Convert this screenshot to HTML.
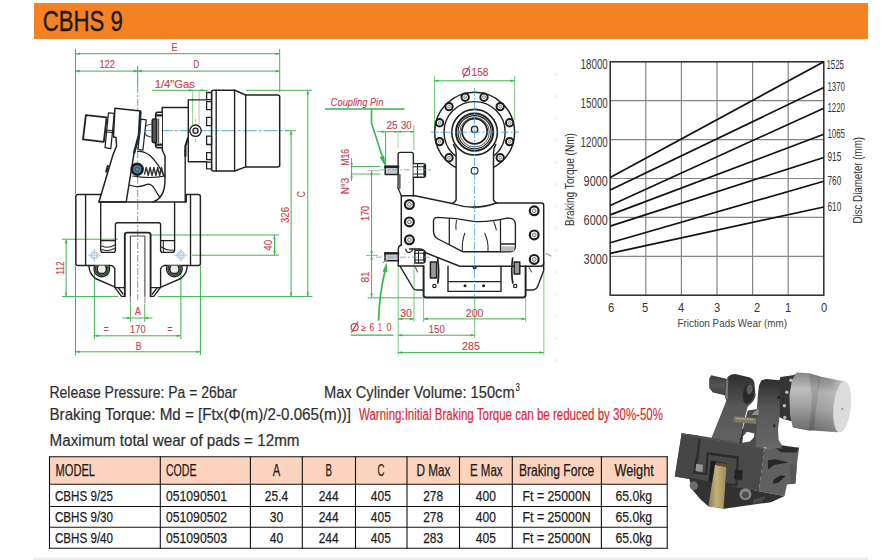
<!DOCTYPE html>
<html><head><meta charset="utf-8"><title>CBHS 9</title>
<style>
html,body{margin:0;padding:0;background:#fff;}
body{width:891px;height:560px;overflow:hidden;font-family:"Liberation Sans",sans-serif;}
svg{display:block;font-family:"Liberation Sans",sans-serif;}
</style></head><body>
<svg width="891" height="560" viewBox="0 0 891 560">
<rect x="34" y="3" width="834" height="36" fill="#f58220"/>
<text x="42.8" y="31.2" font-size="29" fill="#1a1a1a" textLength="80" lengthAdjust="spacingAndGlyphs" stroke="#1a1a1a" stroke-width="0.35">CBHS 9</text>
<g stroke="#858585" stroke-width="1.2" fill="none">
<line x1="645.8" y1="61.8" x2="645.8" y2="295.2"/>
<line x1="681.4" y1="61.8" x2="681.4" y2="295.2"/>
<line x1="717.0" y1="61.8" x2="717.0" y2="295.2"/>
<line x1="752.6" y1="61.8" x2="752.6" y2="295.2"/>
<line x1="788.2" y1="61.8" x2="788.2" y2="295.2"/>
<line x1="610.2" y1="100.7" x2="823.8" y2="100.7"/>
<line x1="610.2" y1="139.6" x2="823.8" y2="139.6"/>
<line x1="610.2" y1="178.5" x2="823.8" y2="178.5"/>
<line x1="610.2" y1="217.4" x2="823.8" y2="217.4"/>
<line x1="610.2" y1="256.3" x2="823.8" y2="256.3"/>
</g>
<rect x="610.2" y="61.8" width="213.6" height="233.4" fill="none" stroke="#2a2a2a" stroke-width="1.5"/>
<g stroke="#111" stroke-width="1.7" fill="none">
<line x1="610.2" y1="177.6" x2="823.8" y2="61.8"/>
<line x1="610.2" y1="190" x2="823.8" y2="87.5"/>
<line x1="610.2" y1="205.5" x2="823.8" y2="108.2"/>
<line x1="610.2" y1="214.9" x2="823.8" y2="134.2"/>
<line x1="610.2" y1="226.1" x2="823.8" y2="157.5"/>
<line x1="610.2" y1="242.8" x2="823.8" y2="181.2"/>
<line x1="610.2" y1="253.4" x2="823.8" y2="207"/>
</g>
<text x="607.8" y="69.0" font-size="14.3" fill="#3a3a3a" text-anchor="end" textLength="27.2" lengthAdjust="spacingAndGlyphs">18000</text>
<text x="607.8" y="107.9" font-size="14.3" fill="#3a3a3a" text-anchor="end" textLength="27.2" lengthAdjust="spacingAndGlyphs">15000</text>
<text x="607.8" y="146.8" font-size="14.3" fill="#3a3a3a" text-anchor="end" textLength="27.2" lengthAdjust="spacingAndGlyphs">12000</text>
<text x="607.8" y="185.7" font-size="14.3" fill="#3a3a3a" text-anchor="end" textLength="24.2" lengthAdjust="spacingAndGlyphs">9000</text>
<text x="607.8" y="224.6" font-size="14.3" fill="#3a3a3a" text-anchor="end" textLength="24.2" lengthAdjust="spacingAndGlyphs">6000</text>
<text x="607.8" y="263.5" font-size="14.3" fill="#3a3a3a" text-anchor="end" textLength="24.2" lengthAdjust="spacingAndGlyphs">3000</text>
<text x="826.5" y="68.8" font-size="12.2" fill="#333" textLength="17.5" lengthAdjust="spacingAndGlyphs">1525</text>
<text x="827.5" y="90.8" font-size="12.2" fill="#333" textLength="17.5" lengthAdjust="spacingAndGlyphs">1370</text>
<text x="827.5" y="111.8" font-size="12.2" fill="#333" textLength="17.5" lengthAdjust="spacingAndGlyphs">1220</text>
<text x="827.5" y="137.5" font-size="12.2" fill="#333" textLength="17.5" lengthAdjust="spacingAndGlyphs">1065</text>
<text x="827.5" y="161.3" font-size="12.2" fill="#333" textLength="13.8" lengthAdjust="spacingAndGlyphs">915</text>
<text x="827.5" y="185" font-size="12.2" fill="#333" textLength="13.8" lengthAdjust="spacingAndGlyphs">760</text>
<text x="827.5" y="211" font-size="12.2" fill="#333" textLength="13.8" lengthAdjust="spacingAndGlyphs">610</text>
<text x="611" y="312" font-size="13" fill="#333" text-anchor="middle" textLength="6.2" lengthAdjust="spacingAndGlyphs">6</text>
<text x="645" y="312" font-size="13" fill="#333" text-anchor="middle" textLength="6.2" lengthAdjust="spacingAndGlyphs">5</text>
<text x="681" y="312" font-size="13" fill="#333" text-anchor="middle" textLength="6.2" lengthAdjust="spacingAndGlyphs">4</text>
<text x="717" y="312" font-size="13" fill="#333" text-anchor="middle" textLength="6.2" lengthAdjust="spacingAndGlyphs">3</text>
<text x="757" y="312" font-size="13" fill="#333" text-anchor="middle" textLength="6.2" lengthAdjust="spacingAndGlyphs">2</text>
<text x="788" y="312" font-size="13" fill="#333" text-anchor="middle" textLength="6.2" lengthAdjust="spacingAndGlyphs">1</text>
<text x="824" y="312" font-size="13" fill="#333" text-anchor="middle" textLength="6.2" lengthAdjust="spacingAndGlyphs">0</text>
<text x="677.5" y="327" font-size="11.8" fill="#444" textLength="109.5" lengthAdjust="spacingAndGlyphs">Friction Pads Wear (mm)</text>
<text x="573.6" y="226" font-size="12.2" fill="#333" textLength="93" lengthAdjust="spacingAndGlyphs" transform="rotate(-90 573.6 226)">Braking Torque (Nm)</text>
<text x="861.5" y="223.5" font-size="12.2" fill="#333" textLength="86.5" lengthAdjust="spacingAndGlyphs" transform="rotate(-90 861.5 223.5)">Disc Diameter (mm)</text>
<text x="49.5" y="397.5" font-size="16.4" fill="#2e2e2e" textLength="187.5" lengthAdjust="spacingAndGlyphs" stroke="#2e2e2e" stroke-width="0.2">Release Pressure: Pa = 26bar</text>
<text x="324" y="397.5" font-size="16.4" fill="#2e2e2e" textLength="190.6" lengthAdjust="spacingAndGlyphs" stroke="#2e2e2e" stroke-width="0.2">Max Cylinder Volume: 150cm</text>
<text x="515.4" y="391" font-size="10.5" fill="#2e2e2e" textLength="4.4" lengthAdjust="spacingAndGlyphs" stroke="#2e2e2e" stroke-width="0.2">3</text>
<text x="49.5" y="420" font-size="16.4" fill="#2e2e2e" textLength="301.5" lengthAdjust="spacingAndGlyphs" stroke="#2e2e2e" stroke-width="0.2">Braking Torque: Md = [Ftx(Φ(m)/2-0.065(m))]</text>
<text x="359" y="420" font-size="15.6" fill="#e3232f" textLength="304" lengthAdjust="spacingAndGlyphs" stroke="#e3232f" stroke-width="0.15">Warning:Initial Braking Torque can be reduced by 30%-50%</text>
<text x="49.5" y="445.5" font-size="16.4" fill="#2e2e2e" textLength="250" lengthAdjust="spacingAndGlyphs" stroke="#2e2e2e" stroke-width="0.2">Maximum total wear of pads = 12mm</text>
<rect x="49.5" y="456.8" width="617.7" height="27.5" fill="#fcd3bd"/>
<g stroke="#111" stroke-width="1.1" fill="none">
<line x1="49.5" y1="456.3" x2="49.5" y2="548.8"/>
<line x1="160.3" y1="456.3" x2="160.3" y2="548.8"/>
<line x1="250.4" y1="456.3" x2="250.4" y2="548.8"/>
<line x1="302.3" y1="456.3" x2="302.3" y2="548.8"/>
<line x1="355.5" y1="456.3" x2="355.5" y2="548.8"/>
<line x1="407" y1="456.3" x2="407" y2="548.8"/>
<line x1="459.5" y1="456.3" x2="459.5" y2="548.8"/>
<line x1="512.3" y1="456.3" x2="512.3" y2="548.8"/>
<line x1="601.4" y1="456.3" x2="601.4" y2="548.8"/>
<line x1="667.2" y1="456.3" x2="667.2" y2="548.8"/>
<line x1="49.5" y1="456.8" x2="667.2" y2="456.8"/>
<line x1="49.5" y1="484.3" x2="667.2" y2="484.3"/>
<line x1="49.5" y1="506.5" x2="667.2" y2="506.5"/>
<line x1="49.5" y1="527.3" x2="667.2" y2="527.3"/>
<line x1="49.5" y1="548.3" x2="667.2" y2="548.3"/>
</g>
<text x="55.5" y="476" font-size="15.6" fill="#1c1c1c" textLength="39.5" lengthAdjust="spacingAndGlyphs" stroke="#1c1c1c" stroke-width="0.25">MODEL</text>
<text x="166" y="476" font-size="15.6" fill="#1c1c1c" textLength="30.5" lengthAdjust="spacingAndGlyphs" stroke="#1c1c1c" stroke-width="0.25">CODE</text>
<text x="276.5" y="476" font-size="15.6" fill="#1c1c1c" text-anchor="middle" textLength="7.5" lengthAdjust="spacingAndGlyphs" stroke="#1c1c1c" stroke-width="0.25">A</text>
<text x="328.7" y="476" font-size="15.6" fill="#1c1c1c" text-anchor="middle" textLength="6.5" lengthAdjust="spacingAndGlyphs" stroke="#1c1c1c" stroke-width="0.25">B</text>
<text x="381" y="476" font-size="15.6" fill="#1c1c1c" text-anchor="middle" textLength="7" lengthAdjust="spacingAndGlyphs" stroke="#1c1c1c" stroke-width="0.25">C</text>
<text x="416.5" y="476" font-size="15.6" fill="#1c1c1c" textLength="34" lengthAdjust="spacingAndGlyphs" stroke="#1c1c1c" stroke-width="0.25">D Max</text>
<text x="470" y="476" font-size="15.6" fill="#1c1c1c" textLength="32.5" lengthAdjust="spacingAndGlyphs" stroke="#1c1c1c" stroke-width="0.25">E Max</text>
<text x="519" y="476" font-size="15.6" fill="#1c1c1c" textLength="75.2" lengthAdjust="spacingAndGlyphs" stroke="#1c1c1c" stroke-width="0.25">Braking Force</text>
<text x="614.5" y="476" font-size="15.6" fill="#1c1c1c" textLength="39.2" lengthAdjust="spacingAndGlyphs" stroke="#1c1c1c" stroke-width="0.25">Weight</text>
<text x="55" y="501" font-size="15.4" fill="#1c1c1c" textLength="58" lengthAdjust="spacingAndGlyphs" stroke="#1c1c1c" stroke-width="0.25">CBHS 9/25</text>
<text x="166" y="501" font-size="15.4" fill="#1c1c1c" textLength="61" lengthAdjust="spacingAndGlyphs" stroke="#1c1c1c" stroke-width="0.25">051090501</text>
<text x="276.5" y="501" font-size="15.4" fill="#1c1c1c" text-anchor="middle" textLength="23.5" lengthAdjust="spacingAndGlyphs" stroke="#1c1c1c" stroke-width="0.25">25.4</text>
<text x="328.7" y="501" font-size="15.4" fill="#1c1c1c" text-anchor="middle" textLength="20" lengthAdjust="spacingAndGlyphs" stroke="#1c1c1c" stroke-width="0.25">244</text>
<text x="380.8" y="501" font-size="15.4" fill="#1c1c1c" text-anchor="middle" textLength="20" lengthAdjust="spacingAndGlyphs" stroke="#1c1c1c" stroke-width="0.25">405</text>
<text x="433.2" y="501" font-size="15.4" fill="#1c1c1c" text-anchor="middle" textLength="20" lengthAdjust="spacingAndGlyphs" stroke="#1c1c1c" stroke-width="0.25">278</text>
<text x="485.8" y="501" font-size="15.4" fill="#1c1c1c" text-anchor="middle" textLength="20" lengthAdjust="spacingAndGlyphs" stroke="#1c1c1c" stroke-width="0.25">400</text>
<text x="522.5" y="501" font-size="15.4" fill="#1c1c1c" textLength="68.2" lengthAdjust="spacingAndGlyphs" stroke="#1c1c1c" stroke-width="0.25">Ft = 25000N</text>
<text x="615.5" y="501" font-size="15.4" fill="#1c1c1c" textLength="36.5" lengthAdjust="spacingAndGlyphs" stroke="#1c1c1c" stroke-width="0.25">65.0kg</text>
<text x="55" y="522" font-size="15.4" fill="#1c1c1c" textLength="58" lengthAdjust="spacingAndGlyphs" stroke="#1c1c1c" stroke-width="0.25">CBHS 9/30</text>
<text x="166" y="522" font-size="15.4" fill="#1c1c1c" textLength="61" lengthAdjust="spacingAndGlyphs" stroke="#1c1c1c" stroke-width="0.25">051090502</text>
<text x="276.5" y="522" font-size="15.4" fill="#1c1c1c" text-anchor="middle" textLength="13.4" lengthAdjust="spacingAndGlyphs" stroke="#1c1c1c" stroke-width="0.25">30</text>
<text x="328.7" y="522" font-size="15.4" fill="#1c1c1c" text-anchor="middle" textLength="20" lengthAdjust="spacingAndGlyphs" stroke="#1c1c1c" stroke-width="0.25">244</text>
<text x="380.8" y="522" font-size="15.4" fill="#1c1c1c" text-anchor="middle" textLength="20" lengthAdjust="spacingAndGlyphs" stroke="#1c1c1c" stroke-width="0.25">405</text>
<text x="433.2" y="522" font-size="15.4" fill="#1c1c1c" text-anchor="middle" textLength="20" lengthAdjust="spacingAndGlyphs" stroke="#1c1c1c" stroke-width="0.25">278</text>
<text x="485.8" y="522" font-size="15.4" fill="#1c1c1c" text-anchor="middle" textLength="20" lengthAdjust="spacingAndGlyphs" stroke="#1c1c1c" stroke-width="0.25">400</text>
<text x="522.5" y="522" font-size="15.4" fill="#1c1c1c" textLength="68.2" lengthAdjust="spacingAndGlyphs" stroke="#1c1c1c" stroke-width="0.25">Ft = 25000N</text>
<text x="615.5" y="522" font-size="15.4" fill="#1c1c1c" textLength="36.5" lengthAdjust="spacingAndGlyphs" stroke="#1c1c1c" stroke-width="0.25">65.0kg</text>
<text x="55" y="543.2" font-size="15.4" fill="#1c1c1c" textLength="58" lengthAdjust="spacingAndGlyphs" stroke="#1c1c1c" stroke-width="0.25">CBHS 9/40</text>
<text x="166" y="543.2" font-size="15.4" fill="#1c1c1c" textLength="61" lengthAdjust="spacingAndGlyphs" stroke="#1c1c1c" stroke-width="0.25">051090503</text>
<text x="276.5" y="543.2" font-size="15.4" fill="#1c1c1c" text-anchor="middle" textLength="13.4" lengthAdjust="spacingAndGlyphs" stroke="#1c1c1c" stroke-width="0.25">40</text>
<text x="328.7" y="543.2" font-size="15.4" fill="#1c1c1c" text-anchor="middle" textLength="20" lengthAdjust="spacingAndGlyphs" stroke="#1c1c1c" stroke-width="0.25">244</text>
<text x="380.8" y="543.2" font-size="15.4" fill="#1c1c1c" text-anchor="middle" textLength="20" lengthAdjust="spacingAndGlyphs" stroke="#1c1c1c" stroke-width="0.25">405</text>
<text x="433.2" y="543.2" font-size="15.4" fill="#1c1c1c" text-anchor="middle" textLength="20" lengthAdjust="spacingAndGlyphs" stroke="#1c1c1c" stroke-width="0.25">283</text>
<text x="485.8" y="543.2" font-size="15.4" fill="#1c1c1c" text-anchor="middle" textLength="20" lengthAdjust="spacingAndGlyphs" stroke="#1c1c1c" stroke-width="0.25">405</text>
<text x="522.5" y="543.2" font-size="15.4" fill="#1c1c1c" textLength="68.2" lengthAdjust="spacingAndGlyphs" stroke="#1c1c1c" stroke-width="0.25">Ft = 25000N</text>
<text x="615.5" y="543.2" font-size="15.4" fill="#1c1c1c" textLength="36.5" lengthAdjust="spacingAndGlyphs" stroke="#1c1c1c" stroke-width="0.25">65.0kg</text>
<rect x="33" y="557.6" width="835" height="2.4" fill="#ebebeb"/>
<rect x="555.6" y="73" width="1.8" height="2.6" fill="#f1eed2"/>
<rect x="555.6" y="95" width="1.8" height="2.6" fill="#f1eed2"/>
<rect x="555.6" y="117" width="1.8" height="2.6" fill="#f1eed2"/>
<rect x="555.6" y="139" width="1.8" height="2.6" fill="#f1eed2"/>
<rect x="555.6" y="161" width="1.8" height="2.6" fill="#f1eed2"/>
<rect x="555.6" y="183" width="1.8" height="2.6" fill="#f1eed2"/>
<rect x="555.6" y="205" width="1.8" height="2.6" fill="#f1eed2"/>
<rect x="555.6" y="227" width="1.8" height="2.6" fill="#f1eed2"/>
<rect x="555.6" y="249" width="1.8" height="2.6" fill="#f1eed2"/>
<rect x="555.6" y="271" width="1.8" height="2.6" fill="#f1eed2"/>
<rect x="555.6" y="293" width="1.8" height="2.6" fill="#f1eed2"/>
<rect x="555.6" y="315" width="1.8" height="2.6" fill="#f1eed2"/>
<rect x="555.6" y="337" width="1.8" height="2.6" fill="#f1eed2"/>
<rect x="555.6" y="359" width="1.8" height="2.6" fill="#f1eed2"/>
<line x1="75.5" y1="49" x2="75.5" y2="194" stroke="#3cb54a" stroke-width="1.0"/>
<line x1="279.7" y1="49" x2="279.7" y2="92" stroke="#3cb54a" stroke-width="1.0"/>
<line x1="75.5" y1="53.7" x2="279.7" y2="53.7" stroke="#3cb54a" stroke-width="1.0"/>
<polygon points="75.5,53.7 79.7,52.4 79.7,55.0" fill="#3cb54a"/>
<polygon points="279.7,53.7 275.5,52.4 275.5,55.0" fill="#3cb54a"/>
<line x1="75.5" y1="71.1" x2="279.7" y2="71.1" stroke="#3cb54a" stroke-width="1.0"/>
<polygon points="75.5,71.1 79.7,69.8 79.7,72.4" fill="#3cb54a"/>
<polygon points="137.7,71.1 133.5,69.8 133.5,72.4" fill="#3cb54a"/>
<polygon points="137.7,71.1 141.9,69.8 141.9,72.4" fill="#3cb54a"/>
<polygon points="279.7,71.1 275.5,69.8 275.5,72.4" fill="#3cb54a"/>
<line x1="137.7" y1="66" x2="137.7" y2="86" stroke="#3cb54a" stroke-width="1.0"/>
<text x="174.6" y="50.5" font-size="11" fill="#c8424f" text-anchor="middle" textLength="6" lengthAdjust="spacingAndGlyphs" stroke="#c8424f" stroke-width="0.15">E</text>
<text x="107.2" y="68.3" font-size="11" fill="#c8424f" text-anchor="middle" textLength="15.5" lengthAdjust="spacingAndGlyphs" stroke="#c8424f" stroke-width="0.15">122</text>
<text x="196.3" y="68.3" font-size="11" fill="#c8424f" text-anchor="middle" textLength="6" lengthAdjust="spacingAndGlyphs" stroke="#c8424f" stroke-width="0.15">D</text>
<text x="154.7" y="87.9" font-size="11" fill="#c8424f" textLength="40.2" lengthAdjust="spacingAndGlyphs" stroke="#c8424f" stroke-width="0.15">1/4"Gas</text>
<line x1="152" y1="90.3" x2="208" y2="90.3" stroke="#3cb54a" stroke-width="1.0"/>
<line x1="192.5" y1="90.3" x2="192.5" y2="125" stroke="#3cb54a" stroke-width="0.9" stroke-opacity="0.6"/>
<line x1="199.1" y1="90.3" x2="199.1" y2="125" stroke="#3cb54a" stroke-width="0.9" stroke-opacity="0.6"/>
<polygon points="192.5,90.3 189.0,89.0 189.0,91.6" fill="#3cb54a"/>
<polygon points="199.1,90.3 202.6,89.0 202.6,91.6" fill="#3cb54a"/>
<line x1="246" y1="90.3" x2="312" y2="90.3" stroke="#3cb54a" stroke-width="1.0"/>
<line x1="307.8" y1="90.3" x2="307.8" y2="296.6" stroke="#3cb54a" stroke-width="1.0"/>
<polygon points="307.8,90.3 306.5,94.5 309.1,94.5" fill="#3cb54a"/>
<polygon points="307.8,296.6 306.5,292.4 309.1,292.4" fill="#3cb54a"/>
<line x1="291.1" y1="130.7" x2="291.1" y2="296.6" stroke="#3cb54a" stroke-width="1.0"/>
<polygon points="291.1,130.7 289.8,134.9 292.4,134.9" fill="#3cb54a"/>
<polygon points="291.1,296.6 289.8,292.4 292.4,292.4" fill="#3cb54a"/>
<line x1="285" y1="130.7" x2="296" y2="130.7" stroke="#3cb54a" stroke-width="1.0"/>
<line x1="151" y1="235" x2="279" y2="235" stroke="#3cb54a" stroke-width="1.0"/>
<line x1="192" y1="255.2" x2="279" y2="255.2" stroke="#3cb54a" stroke-width="1.0"/>
<line x1="274.5" y1="235" x2="274.5" y2="255.2" stroke="#3cb54a" stroke-width="1.0"/>
<polygon points="274.5,235.0 273.2,239.2 275.8,239.2" fill="#3cb54a"/>
<polygon points="274.5,255.2 273.2,251.0 275.8,251.0" fill="#3cb54a"/>
<line x1="158" y1="296.6" x2="312.5" y2="296.6" stroke="#3cb54a" stroke-width="1.0"/>
<text x="305.2" y="194.2" font-size="11" fill="#c8424f" text-anchor="middle" textLength="6" lengthAdjust="spacingAndGlyphs" transform="rotate(-90 305.2 194.2)" stroke="#c8424f" stroke-width="0.15">C</text>
<text x="289" y="215" font-size="11" fill="#c8424f" text-anchor="middle" textLength="16" lengthAdjust="spacingAndGlyphs" transform="rotate(-90 289 215)" stroke="#c8424f" stroke-width="0.15">326</text>
<text x="272.2" y="245.3" font-size="11" fill="#c8424f" text-anchor="middle" textLength="11" lengthAdjust="spacingAndGlyphs" transform="rotate(-90 272.2 245.3)" stroke="#c8424f" stroke-width="0.15">40</text>
<line x1="62" y1="239.2" x2="118" y2="239.2" stroke="#3cb54a" stroke-width="1.0"/>
<line x1="62" y1="296.6" x2="118" y2="296.6" stroke="#3cb54a" stroke-width="1.0"/>
<line x1="66.1" y1="239.2" x2="66.1" y2="296.6" stroke="#3cb54a" stroke-width="1.0"/>
<polygon points="66.1,239.2 64.8,243.4 67.4,243.4" fill="#3cb54a"/>
<polygon points="66.1,296.6 64.8,292.4 67.4,292.4" fill="#3cb54a"/>
<text x="63.6" y="268" font-size="11" fill="#c8424f" text-anchor="middle" textLength="13.5" lengthAdjust="spacingAndGlyphs" transform="rotate(-90 63.6 268)" stroke="#c8424f" stroke-width="0.15">112</text>
<line x1="75.5" y1="266" x2="75.5" y2="355" stroke="#3cb54a" stroke-width="1.0"/>
<line x1="200.4" y1="266" x2="200.4" y2="355" stroke="#3cb54a" stroke-width="1.0"/>
<line x1="94.4" y1="272" x2="94.4" y2="339" stroke="#3cb54a" stroke-width="1.0"/>
<line x1="180.9" y1="272" x2="180.9" y2="339" stroke="#3cb54a" stroke-width="1.0"/>
<line x1="130.6" y1="304" x2="130.6" y2="322" stroke="#3cb54a" stroke-width="0.9"/>
<line x1="144.7" y1="304" x2="144.7" y2="322" stroke="#3cb54a" stroke-width="0.9"/>
<line x1="122.5" y1="318" x2="152.5" y2="318" stroke="#3cb54a" stroke-width="1.0"/>
<polygon points="130.6,318.0 127.1,316.7 127.1,319.3" fill="#3cb54a"/>
<polygon points="144.7,318.0 148.2,316.7 148.2,319.3" fill="#3cb54a"/>
<line x1="94.4" y1="335.8" x2="180.9" y2="335.8" stroke="#3cb54a" stroke-width="1.0"/>
<polygon points="94.4,335.8 98.6,334.5 98.6,337.1" fill="#3cb54a"/>
<polygon points="180.9,335.8 176.7,334.5 176.7,337.1" fill="#3cb54a"/>
<line x1="75.5" y1="351.8" x2="200.4" y2="351.8" stroke="#3cb54a" stroke-width="1.0"/>
<polygon points="75.5,351.8 79.7,350.5 79.7,353.1" fill="#3cb54a"/>
<polygon points="200.4,351.8 196.2,350.5 196.2,353.1" fill="#3cb54a"/>
<text x="138" y="315" font-size="11" fill="#c8424f" text-anchor="middle" textLength="6.3" lengthAdjust="spacingAndGlyphs" stroke="#c8424f" stroke-width="0.15">A</text>
<text x="137.8" y="333.2" font-size="11" fill="#c8424f" text-anchor="middle" textLength="15.5" lengthAdjust="spacingAndGlyphs" stroke="#c8424f" stroke-width="0.15">170</text>
<text x="106.2" y="333" font-size="10" fill="#c8424f" text-anchor="middle" textLength="5" lengthAdjust="spacingAndGlyphs" stroke="#c8424f" stroke-width="0.15">=</text>
<text x="170" y="333" font-size="10" fill="#c8424f" text-anchor="middle" textLength="5" lengthAdjust="spacingAndGlyphs" stroke="#c8424f" stroke-width="0.15">=</text>
<text x="138.6" y="349.5" font-size="11" fill="#c8424f" text-anchor="middle" textLength="5.8" lengthAdjust="spacingAndGlyphs" stroke="#c8424f" stroke-width="0.15">B</text>
<line x1="137.7" y1="86" x2="137.7" y2="300" stroke="#4a9fd0" stroke-width="1.0" stroke-dasharray="7 2 2 2" stroke-opacity="0.9"/>
<line x1="137.7" y1="130.7" x2="287" y2="130.7" stroke="#4a9fd0" stroke-width="1.0" stroke-dasharray="14 2 3 2" stroke-opacity="0.9"/>
<line x1="195.5" y1="119" x2="195.5" y2="143" stroke="#4a9fd0" stroke-width="0.8" stroke-dasharray="3 2" stroke-opacity="0.8"/>
<path d="M206.6,99.9 H188.3 V161.7 H206.6" stroke="#222" stroke-width="1.38" fill="none" stroke-linejoin="round" stroke-linecap="round"/>
<path d="M206.6,92.5 H211.6 V99.6 H206.6 Z" stroke="#222" stroke-width="1.26" fill="none" stroke-linejoin="round" stroke-linecap="round"/>
<path d="M206.6,101.6 H211.6 V109.6 H206.6 Z" stroke="#222" stroke-width="1.26" fill="none" stroke-linejoin="round" stroke-linecap="round"/>
<path d="M206.6,117.4 H211.6 V125.7 H206.6 Z" stroke="#222" stroke-width="1.26" fill="none" stroke-linejoin="round" stroke-linecap="round"/>
<path d="M206.6,136.1 H211.6 V144.5 H206.6 Z" stroke="#222" stroke-width="1.26" fill="none" stroke-linejoin="round" stroke-linecap="round"/>
<path d="M206.6,152.6 H211.6 V159.7 H206.6 Z" stroke="#222" stroke-width="1.26" fill="none" stroke-linejoin="round" stroke-linecap="round"/>
<path d="M206.6,162.2 H211.6 V168.9 H206.6 Z" stroke="#222" stroke-width="1.26" fill="none" stroke-linejoin="round" stroke-linecap="round"/>
<path d="M211.6,92 Q211.6,90.3 213.5,90.3 H234.8 L245.6,95 H277.7 Q279.7,95 279.7,97 V164.9 Q279.7,166.9 277.7,166.9 H245.6 L234.8,171 H213.5 Q211.6,171 211.6,169.3 Z" stroke="#222" stroke-width="1.49" fill="none" stroke-linejoin="round" stroke-linecap="round"/>
<path d="M216.2,90.3 V171 M234.6,90.3 V171 M245.7,95 V166.9" stroke="#222" stroke-width="1.38" fill="none" stroke-linejoin="round" stroke-linecap="round"/>
<circle cx="195.5" cy="130.7" r="5.7" fill="#fff" stroke="#222" stroke-width="1.4"/>
<circle cx="195.5" cy="130.7" r="2.6" fill="#cfe3ee" stroke="#222" stroke-width="1.3"/>
<path d="M162.2,107.5 H188.3 M162.2,107.5 V150 L165,156 V180 Q165,198 152.8,202" stroke="#222" stroke-width="1.49" fill="none" stroke-linejoin="round" stroke-linecap="round"/>
<path d="M185.2,150 V202" stroke="#222" stroke-width="1.38" fill="none" stroke-linejoin="round" stroke-linecap="round"/>
<path d="M188,138 L185.4,146 V156" stroke="#222" stroke-width="2.18" fill="none" stroke-linejoin="round" stroke-linecap="round"/>
<path d="M162,112.3 H157.6 Q155.7,112.3 155.7,114.4 V145.5 Q155.7,147.6 157.6,147.6 H162" stroke="#222" stroke-width="1.61" fill="#fff" stroke-linejoin="round" stroke-linecap="round"/>
<path d="M156,115.4 H162 M156,144.6 H162" stroke="#222" stroke-width="2.18" fill="none" stroke-linejoin="round" stroke-linecap="round"/>
<path d="M152.3,120.6 Q152.3,119 153.9,119 H156.6 V142.6 H153.9 Q152.3,142.6 152.3,141 Z" stroke="#222" stroke-width="1.72" fill="#5a5a5a" stroke-linejoin="round" stroke-linecap="round"/>
<path d="M158.6,119 V142.6" stroke="#555" stroke-width="1.15" fill="none" stroke-linejoin="round" stroke-linecap="round"/>
<path d="M152.3,124 Q144.2,124.6 144,130.6 Q144.2,136.6 152.3,137.2" stroke="#444" stroke-width="1.15" fill="none" stroke-linejoin="round" stroke-linecap="round"/>
<path d="M140.9,119.2 L146.2,119.8 L142.9,150.2 L138,149.7 Z" stroke="#222" stroke-width="1.26" fill="#fff" stroke-linejoin="round" stroke-linecap="round"/>
<path d="M85.9,115.1 L106.7,117.4 L103.8,141.8 L83,139.4 Z" stroke="#222" stroke-width="1.84" fill="#fff" stroke-linejoin="round" stroke-linecap="round"/>
<path d="M108.5,112.8 L114.3,113.3 L110.8,148.7 L105,147.6 Z" stroke="#222" stroke-width="1.26" fill="#fff" stroke-linejoin="round" stroke-linecap="round"/>
<path d="M106.6,130 L112.4,130.7 M106.4,132 L112.2,132.6" stroke="#222" stroke-width="1.03" fill="none" stroke-linejoin="round" stroke-linecap="round"/>
<path d="M114.9,108.2 L140.5,111 L139.2,135 L134,153.4 L126.2,202 H98.9 L113.1,154.5 L116.6,146 L116,137.5 L113.5,137 Z" stroke="#222" stroke-width="1.49" fill="#fff" stroke-linejoin="round" stroke-linecap="round"/>
<path d="M140.3,112 L139,135 L134.2,152.5" stroke="#1d2a36" stroke-width="2.53" fill="none" stroke-linejoin="round" stroke-linecap="round"/>
<path d="M107.8,166 L106.3,171.6" stroke="#222" stroke-width="2.18" fill="none" stroke-linejoin="round" stroke-linecap="round"/>
<path d="M137.8,151.4 Q144,151 150,155.5 Q158,163 164.6,176.5" stroke="#222" stroke-width="1.26" fill="none" stroke-linejoin="round" stroke-linecap="round"/>
<path d="M129.6,185 Q138,188.5 147,184.4 Q151,183.5 153.6,187.5 L159.8,197.4" stroke="#222" stroke-width="1.26" fill="none" stroke-linejoin="round" stroke-linecap="round"/>
<path d="M132.5,176 Q150,179 165,176" stroke="#222" stroke-width="1.03" fill="none" stroke-linejoin="round" stroke-linecap="round"/>
<path d="M144.5,174 L146.3,167.5 L148.3,175.5 L150.1,167.5 L152.1,175.5 L153.9,167.5 L155.9,175.5 L157.7,167.5 L159.7,175.5 L161.5,167.5 L163.5,175.5" stroke="#333" stroke-width="1.38" fill="none" stroke-linejoin="round" stroke-linecap="round"/>
<circle cx="137.2" cy="169.3" r="5.4" fill="#5b86a3" stroke="#1a1a1a" stroke-width="2.6"/>
<circle cx="137.2" cy="169.3" r="2.2" fill="none" stroke="#22445a" stroke-width="0.9"/>
<path d="M101,194.6 H78 Q75.8,194.6 75.8,196.8 V263.4 Q75.8,265.4 77.8,265.4 H109.8" stroke="#222" stroke-width="1.49" fill="none" stroke-linejoin="round" stroke-linecap="round"/>
<path d="M186.2,194.6 H198.2 Q200.4,194.6 200.4,196.8 V263.4 Q200.4,265.4 198.4,265.4 H164.7" stroke="#222" stroke-width="1.49" fill="none" stroke-linejoin="round" stroke-linecap="round"/>
<path d="M98.9,202 H186.2 M186.2,194.6 V202" stroke="#222" stroke-width="1.49" fill="none" stroke-linejoin="round" stroke-linecap="round"/>
<path d="M85.6,194.4 V265.4 M190.5,194.4 V265.4" stroke="#222" stroke-width="1.38" fill="none" stroke-linejoin="round" stroke-linecap="round"/>
<path d="M100.7,202 V250 Q100.7,252.4 103,252.4 H113.5 Q115.4,252.4 115.4,250 V224.8 Q115.4,222.8 117.4,222.8 H158.6 Q160.6,222.8 160.6,224.8 V250 Q160.6,252.4 162.6,252.4 H172.4 Q174.6,252.4 174.6,250 V202" stroke="#222" stroke-width="1.38" fill="none" stroke-linejoin="round" stroke-linecap="round"/>
<path d="M100.7,240.6 H115.4 M160.6,240.6 H174.6" stroke="#222" stroke-width="1.26" fill="none" stroke-linejoin="round" stroke-linecap="round"/>
<path d="M102,246 Q108,249 114.5,245 M102,249.5 Q108,252 114.5,248.5" stroke="#222" stroke-width="1.03" fill="none" stroke-linejoin="round" stroke-linecap="round"/>
<path d="M163.3,241 V251.5 M161.5,247 Q167,251 173.5,250" stroke="#222" stroke-width="1.03" fill="none" stroke-linejoin="round" stroke-linecap="round"/>
<path d="M124.8,296.3 V235 Q124.8,232.6 127.2,232.6 H148.2 Q150.6,232.6 150.6,235 V296.3" stroke="#222" stroke-width="1.84" fill="none" stroke-linejoin="round" stroke-linecap="round"/>
<path d="M130.4,236 V296 M144.9,236 V296 M130.4,236 H144.9" stroke="#4a4a4a" stroke-width="1.15" fill="none" stroke-linejoin="round" stroke-linecap="round"/>
<path d="M130.4,296 V303 M144.9,296 V303" stroke="#888" stroke-width="1.03" fill="none" stroke-linejoin="round" stroke-linecap="round"/>
<path d="M109.8,265.4 Q113.5,265.6 114.8,269 V287.6 H124.8" stroke="#222" stroke-width="1.38" fill="none" stroke-linejoin="round" stroke-linecap="round"/>
<path d="M165.5,265.4 Q161.8,265.6 160.6,269 V287.6 H150.6" stroke="#222" stroke-width="1.38" fill="none" stroke-linejoin="round" stroke-linecap="round"/>
<path d="M115.3,288 L121.5,296.3 H124.8 M118.5,288 L123,294" stroke="#222" stroke-width="1.26" fill="none" stroke-linejoin="round" stroke-linecap="round"/>
<path d="M160,288 L153.8,296.3 H150.6 M157,288 L152.4,294" stroke="#222" stroke-width="1.26" fill="none" stroke-linejoin="round" stroke-linecap="round"/>
<path d="M89,265.4 Q88.8,273 95.4,278.5 L115.2,287.1" stroke="#222" stroke-width="1.38" fill="none" stroke-linejoin="round" stroke-linecap="round"/>
<path d="M187.2,265.4 Q187.4,273 180.8,278.5 L161,287.1" stroke="#222" stroke-width="1.38" fill="none" stroke-linejoin="round" stroke-linecap="round"/>
<clipPath id="cpb"><rect x="60" y="265.8" width="160" height="40"/></clipPath>
<g clip-path="url(#cpb)"><circle cx="101.8" cy="268.9" r="7.8" fill="#fff" stroke="#222" stroke-width="1.4"/><circle cx="101.8" cy="268.9" r="6.3" fill="none" stroke="#27452f" stroke-width="1.5"/><circle cx="101.8" cy="268.9" r="4.7" fill="#ececec" stroke="#222" stroke-width="1.6"/></g>
<g clip-path="url(#cpb)"><circle cx="174.4" cy="268.9" r="7.8" fill="#fff" stroke="#222" stroke-width="1.4"/><circle cx="174.4" cy="268.9" r="6.3" fill="none" stroke="#27452f" stroke-width="1.5"/><circle cx="174.4" cy="268.9" r="4.7" fill="#ececec" stroke="#222" stroke-width="1.6"/></g>
<path d="M94.4,250.10000000000002 L99.60000000000001,255.3 L94.4,260.5 L89.2,255.3 Z" fill="#fff" stroke="#a9c9dc" stroke-width="0.9"/>
<circle cx="94.4" cy="255.3" r="2.8" fill="none" stroke="#8dbad6" stroke-width="0.9"/>
<path d="M87.9,255.3 H100.9 M94.4,248.8 V261.8" stroke="#8dbad6" stroke-width="0.6"/>
<path d="M180.9,250.10000000000002 L186.1,255.3 L180.9,260.5 L175.70000000000002,255.3 Z" fill="#fff" stroke="#a9c9dc" stroke-width="0.9"/>
<circle cx="180.9" cy="255.3" r="2.8" fill="none" stroke="#8dbad6" stroke-width="0.9"/>
<path d="M174.4,255.3 H187.4 M180.9,248.8 V261.8" stroke="#8dbad6" stroke-width="0.6"/>
<text x="330.8" y="105.7" font-size="10.5" fill="#c8424f" textLength="52.5" lengthAdjust="spacingAndGlyphs" font-style="italic" stroke="#c8424f" stroke-width="0.15">Coupling Pin</text>
<line x1="325" y1="109" x2="404.7" y2="109" stroke="#3cb54a" stroke-width="1.5"/>
<path d="M371.5,109 V123 L384.2,162.5" stroke="#3cb54a" stroke-width="1.61" fill="none" stroke-linejoin="round" stroke-linecap="round"/>
<polygon points="385.3,166 379.6,157.2 384.2,155.6" fill="#3cb54a"/>
<line x1="377.3" y1="131.7" x2="413.9" y2="131.7" stroke="#3cb54a" stroke-width="1.0"/>
<polygon points="385.6,131.7 382.1,130.4 382.1,133.0" fill="#3cb54a"/>
<polygon points="398.0,131.7 394.5,130.4 394.5,133.0" fill="#3cb54a"/>
<polygon points="398.0,131.7 401.5,130.4 401.5,133.0" fill="#3cb54a"/>
<polygon points="413.9,131.7 410.4,130.4 410.4,133.0" fill="#3cb54a"/>
<line x1="385.6" y1="131.7" x2="385.6" y2="166" stroke="#3cb54a" stroke-width="1.0"/>
<line x1="398.1" y1="131.7" x2="398.1" y2="148" stroke="#3cb54a" stroke-width="0.9" stroke-opacity="0.55"/>
<line x1="413.9" y1="125" x2="413.9" y2="150" stroke="#3cb54a" stroke-width="0.9" stroke-opacity="0.8"/>
<text x="386.4" y="128.9" font-size="11" fill="#c8424f" textLength="11.3" lengthAdjust="spacingAndGlyphs" stroke="#c8424f" stroke-width="0.15">25</text>
<text x="401" y="128.9" font-size="11" fill="#c8424f" textLength="10.7" lengthAdjust="spacingAndGlyphs" stroke="#c8424f" stroke-width="0.15">30</text>
<line x1="434.5" y1="76" x2="434.5" y2="130" stroke="#3cb54a" stroke-width="0.9" stroke-opacity="0.8"/>
<line x1="514.7" y1="76" x2="514.7" y2="120" stroke="#3cb54a" stroke-width="0.9" stroke-opacity="0.8"/>
<line x1="434.5" y1="80.8" x2="514.7" y2="80.8" stroke="#3cb54a" stroke-width="1.0"/>
<polygon points="434.5,80.8 438.7,79.5 438.7,82.1" fill="#3cb54a"/>
<polygon points="514.7,80.8 510.5,79.5 510.5,82.1" fill="#3cb54a"/>
<text x="471.6" y="76.1" font-size="11.2" fill="#c8424f" textLength="16.6" lengthAdjust="spacingAndGlyphs" stroke="#c8424f" stroke-width="0.15">158</text>
<circle cx="466.2" cy="72" r="3.5" fill="none" stroke="#c8424f" stroke-width="1.1"/><line x1="463" y1="77.6" x2="469.6" y2="66.4" stroke="#c8424f" stroke-width="1.1"/>
<line x1="350.8" y1="166.5" x2="380.7" y2="166.5" stroke="#3cb54a" stroke-width="0.9"/>
<line x1="350.8" y1="174" x2="380.7" y2="174" stroke="#3cb54a" stroke-width="0.9"/>
<line x1="351.6" y1="158" x2="351.6" y2="181" stroke="#3cb54a" stroke-width="1.0"/>
<polygon points="351.6,166.5 350.3,163.0 352.9,163.0" fill="#3cb54a"/>
<polygon points="351.6,174.0 350.3,177.5 352.9,177.5" fill="#3cb54a"/>
<text x="349" y="157.4" font-size="10.5" fill="#c8424f" text-anchor="middle" textLength="16.6" lengthAdjust="spacingAndGlyphs" transform="rotate(-90 349 157.4)" stroke="#c8424f" stroke-width="0.15">M16</text>
<text x="349" y="186" font-size="10.5" fill="#c8424f" text-anchor="middle" textLength="16.6" lengthAdjust="spacingAndGlyphs" transform="rotate(-90 349 186)" stroke="#c8424f" stroke-width="0.15">N°3</text>
<line x1="367.4" y1="170.7" x2="379.8" y2="170.7" stroke="#6a8f6a" stroke-width="0.9" stroke-opacity="0.7"/>
<line x1="371.6" y1="170.7" x2="371.6" y2="297.8" stroke="#3cb54a" stroke-width="1.0"/>
<polygon points="371.6,170.7 370.3,174.9 372.9,174.9" fill="#3cb54a"/>
<polygon points="371.6,255.4 370.3,251.2 372.9,251.2" fill="#3cb54a"/>
<polygon points="371.6,255.4 370.3,259.6 372.9,259.6" fill="#3cb54a"/>
<polygon points="371.6,297.8 370.3,293.6 372.9,293.6" fill="#3cb54a"/>
<line x1="366" y1="255.4" x2="378" y2="255.4" stroke="#3cb54a" stroke-width="0.9" stroke-opacity="0.8"/>
<line x1="367.6" y1="297.8" x2="423.6" y2="297.8" stroke="#3cb54a" stroke-width="1.0"/>
<text x="369" y="213.4" font-size="10.5" fill="#c8424f" text-anchor="middle" textLength="15.2" lengthAdjust="spacingAndGlyphs" transform="rotate(-90 369 213.4)" stroke="#c8424f" stroke-width="0.15">170</text>
<text x="369" y="277" font-size="10.5" fill="#c8424f" text-anchor="middle" textLength="11" lengthAdjust="spacingAndGlyphs" transform="rotate(-90 369 277)" stroke="#c8424f" stroke-width="0.15">81</text>
<path d="M378.6,320 Q379.2,295 385.2,270" stroke="#3cb54a" stroke-width="1.72" fill="none" stroke-linejoin="round" stroke-linecap="round"/>
<polygon points="386.6,262.6 387.4,272.6 382.6,271.4" fill="#3cb54a"/>
<circle cx="354.6" cy="327.2" r="3.5" fill="none" stroke="#c8424f" stroke-width="1.2"/><line x1="351.4" y1="332.6" x2="358" y2="321.6" stroke="#c8424f" stroke-width="1.2"/>
<text x="361.2" y="331" font-size="9" fill="#c8424f" textLength="4.8" lengthAdjust="spacingAndGlyphs" stroke="#c8424f" stroke-width="0.15">≥</text>
<text x="369.5" y="331.3" font-size="11" fill="#c8424f" textLength="4.6" lengthAdjust="spacingAndGlyphs" stroke="#c8424f" stroke-width="0.15">6</text>
<text x="378.2" y="331.3" font-size="11" fill="#c8424f" textLength="3.6" lengthAdjust="spacingAndGlyphs" stroke="#c8424f" stroke-width="0.15">1</text>
<text x="386.4" y="331.3" font-size="11" fill="#c8424f" textLength="5" lengthAdjust="spacingAndGlyphs" stroke="#c8424f" stroke-width="0.15">0</text>
<line x1="350.6" y1="335.1" x2="393.5" y2="335.1" stroke="#3cb54a" stroke-width="1.1"/>
<line x1="398.2" y1="262" x2="398.2" y2="355" stroke="#3cb54a" stroke-width="0.9" stroke-opacity="0.8"/>
<line x1="414" y1="263" x2="414" y2="322" stroke="#3cb54a" stroke-width="0.9" stroke-opacity="0.8"/>
<line x1="423.6" y1="298" x2="423.6" y2="322" stroke="#3cb54a" stroke-width="0.9" stroke-opacity="0.8"/>
<line x1="525.7" y1="298" x2="525.7" y2="322" stroke="#3cb54a" stroke-width="0.9" stroke-opacity="0.8"/>
<line x1="474.7" y1="298" x2="474.7" y2="338" stroke="#3cb54a" stroke-width="0.9" stroke-opacity="0.8"/>
<line x1="543.8" y1="266" x2="543.8" y2="355" stroke="#3cb54a" stroke-width="0.9" stroke-opacity="0.7"/>
<line x1="398.2" y1="318.9" x2="414" y2="318.9" stroke="#3cb54a" stroke-width="1.0"/>
<polygon points="398.2,318.9 402.4,317.6 402.4,320.2" fill="#3cb54a"/>
<polygon points="414.0,318.9 409.8,317.6 409.8,320.2" fill="#3cb54a"/>
<line x1="423.6" y1="318.9" x2="525.7" y2="318.9" stroke="#3cb54a" stroke-width="1.0"/>
<polygon points="423.6,318.9 427.8,317.6 427.8,320.2" fill="#3cb54a"/>
<polygon points="525.7,318.9 521.5,317.6 521.5,320.2" fill="#3cb54a"/>
<line x1="398.2" y1="335.2" x2="474.7" y2="335.2" stroke="#3cb54a" stroke-width="1.0"/>
<polygon points="398.2,335.2 402.4,333.9 402.4,336.5" fill="#3cb54a"/>
<polygon points="474.7,335.2 470.5,333.9 470.5,336.5" fill="#3cb54a"/>
<line x1="398.2" y1="352.6" x2="543.8" y2="352.6" stroke="#3cb54a" stroke-width="1.0"/>
<polygon points="398.2,352.6 402.4,351.3 402.4,353.9" fill="#3cb54a"/>
<polygon points="543.8,352.6 539.6,351.3 539.6,353.9" fill="#3cb54a"/>
<text x="406" y="316.7" font-size="11" fill="#c8424f" text-anchor="middle" textLength="11.7" lengthAdjust="spacingAndGlyphs" stroke="#c8424f" stroke-width="0.15">30</text>
<text x="474.6" y="316.7" font-size="11" fill="#c8424f" text-anchor="middle" textLength="17.5" lengthAdjust="spacingAndGlyphs" stroke="#c8424f" stroke-width="0.15">200</text>
<text x="436.8" y="332.8" font-size="11" fill="#c8424f" text-anchor="middle" textLength="16.1" lengthAdjust="spacingAndGlyphs" stroke="#c8424f" stroke-width="0.15">150</text>
<text x="471" y="350.3" font-size="11" fill="#c8424f" text-anchor="middle" textLength="17.8" lengthAdjust="spacingAndGlyphs" stroke="#c8424f" stroke-width="0.15">285</text>
<clipPath id="cpf"><path d="M420,80 H530 V180 H493.6 V152 Q493.6,148 496,144 L474.6,132 L453.2,144 Q456,148 456,152 V180 H420 Z"/></clipPath>
<g clip-path="url(#cpf)">
<circle cx="474.6" cy="132.2" r="40" fill="#fff" stroke="#222" stroke-width="1.5"/>
<circle cx="474.6" cy="132.2" r="30.6" fill="none" stroke="#222" stroke-width="1.4"/>
<circle cx="484.0" cy="97.2" r="3.7" fill="#fff" stroke="#1c1c1c" stroke-width="2.0"/>
<circle cx="484.0" cy="97.2" r="1.5" fill="#ddd" stroke="#555" stroke-width="0.6"/>
<circle cx="500.2" cy="106.6" r="3.7" fill="#fff" stroke="#1c1c1c" stroke-width="2.0"/>
<circle cx="500.2" cy="106.6" r="1.5" fill="#ddd" stroke="#555" stroke-width="0.6"/>
<circle cx="509.6" cy="122.8" r="3.7" fill="#fff" stroke="#1c1c1c" stroke-width="2.0"/>
<circle cx="509.6" cy="122.8" r="1.5" fill="#ddd" stroke="#555" stroke-width="0.6"/>
<circle cx="509.6" cy="141.6" r="3.7" fill="#fff" stroke="#1c1c1c" stroke-width="2.0"/>
<circle cx="509.6" cy="141.6" r="1.5" fill="#ddd" stroke="#555" stroke-width="0.6"/>
<circle cx="500.2" cy="157.8" r="3.7" fill="#fff" stroke="#1c1c1c" stroke-width="2.0"/>
<circle cx="500.2" cy="157.8" r="1.5" fill="#ddd" stroke="#555" stroke-width="0.6"/>
<circle cx="484.0" cy="167.2" r="3.7" fill="#fff" stroke="#1c1c1c" stroke-width="2.0"/>
<circle cx="484.0" cy="167.2" r="1.5" fill="#ddd" stroke="#555" stroke-width="0.6"/>
<circle cx="465.2" cy="167.2" r="3.7" fill="#fff" stroke="#1c1c1c" stroke-width="2.0"/>
<circle cx="465.2" cy="167.2" r="1.5" fill="#ddd" stroke="#555" stroke-width="0.6"/>
<circle cx="449.0" cy="157.8" r="3.7" fill="#fff" stroke="#1c1c1c" stroke-width="2.0"/>
<circle cx="449.0" cy="157.8" r="1.5" fill="#ddd" stroke="#555" stroke-width="0.6"/>
<circle cx="439.6" cy="141.6" r="3.7" fill="#fff" stroke="#1c1c1c" stroke-width="2.0"/>
<circle cx="439.6" cy="141.6" r="1.5" fill="#ddd" stroke="#555" stroke-width="0.6"/>
<circle cx="439.6" cy="122.8" r="3.7" fill="#fff" stroke="#1c1c1c" stroke-width="2.0"/>
<circle cx="439.6" cy="122.8" r="1.5" fill="#ddd" stroke="#555" stroke-width="0.6"/>
<circle cx="449.0" cy="106.6" r="3.7" fill="#fff" stroke="#1c1c1c" stroke-width="2.0"/>
<circle cx="449.0" cy="106.6" r="1.5" fill="#ddd" stroke="#555" stroke-width="0.6"/>
<circle cx="465.2" cy="97.2" r="3.7" fill="#fff" stroke="#1c1c1c" stroke-width="2.0"/>
<circle cx="465.2" cy="97.2" r="1.5" fill="#ddd" stroke="#555" stroke-width="0.6"/>
</g>
<circle cx="474.6" cy="132.2" r="22.8" fill="#fff" stroke="#222" stroke-width="1.6"/>
<circle cx="474.6" cy="132.2" r="18.6" fill="none" stroke="#222" stroke-width="2.0"/>
<circle cx="474.6" cy="132.2" r="16.6" fill="none" stroke="#222" stroke-width="1.1"/>
<circle cx="474.6" cy="132.2" r="14.8" fill="none" stroke="#444" stroke-width="0.9"/>
<circle cx="474.6" cy="131.2" r="12.6" fill="none" stroke="#222" stroke-width="1.8"/>
<circle cx="474.6" cy="129.4" r="3.2" fill="#d9e6ee" stroke="#222" stroke-width="1.3"/>
<path d="M453.4,144.5 Q456.1,148 456.1,153 V200 Q455.5,202 452.3,203.4" stroke="#222" stroke-width="1.49" fill="none" stroke-linejoin="round" stroke-linecap="round"/>
<path d="M495.8,144.5 Q493.5,148 493.5,153 V200 Q494,202 496.8,203" stroke="#222" stroke-width="1.49" fill="none" stroke-linejoin="round" stroke-linecap="round"/>
<circle cx="474.6" cy="170.7" r="3.4" fill="#fff" stroke="#222" stroke-width="1.1"/>
<path d="M401.3,195.8 H414.9 L452.3,203.6 Q474.7,211 496.5,203 H541.4 Q543.7,203 543.7,205.3 V262.5 Q543.7,266.2 540.5,266.2 H459.8 L424.4,252.3 M401.3,195.8 V245" stroke="#222" stroke-width="1.49" fill="none" stroke-linejoin="round" stroke-linecap="round"/>
<circle cx="409.4" cy="204.5" r="4.4" fill="#fff" stroke="#1c1c1c" stroke-width="2.2"/><circle cx="409.4" cy="204.5" r="1.9" fill="#e6e6e6" stroke="#444" stroke-width="0.7"/>
<circle cx="409.4" cy="221.9" r="4.4" fill="#fff" stroke="#1c1c1c" stroke-width="2.2"/><circle cx="409.4" cy="221.9" r="1.9" fill="#e6e6e6" stroke="#444" stroke-width="0.7"/>
<circle cx="409.4" cy="239.8" r="4.4" fill="#fff" stroke="#1c1c1c" stroke-width="2.2"/><circle cx="409.4" cy="239.8" r="1.9" fill="#e6e6e6" stroke="#444" stroke-width="0.7"/>
<circle cx="534.2" cy="210.8" r="4.4" fill="#fff" stroke="#1c1c1c" stroke-width="2.2"/><circle cx="534.2" cy="210.8" r="1.9" fill="#e6e6e6" stroke="#444" stroke-width="0.7"/>
<circle cx="534.2" cy="234.9" r="4.4" fill="#fff" stroke="#1c1c1c" stroke-width="2.2"/><circle cx="534.2" cy="234.9" r="1.9" fill="#e6e6e6" stroke="#444" stroke-width="0.7"/>
<circle cx="534.2" cy="259.4" r="4.4" fill="#fff" stroke="#1c1c1c" stroke-width="2.2"/><circle cx="534.2" cy="259.4" r="1.9" fill="#e6e6e6" stroke="#444" stroke-width="0.7"/>
<path d="M437.5,217.4 Q456,218 474.7,221.6 Q492,222 507,218.2 Q515.4,217.8 515.4,224 V246 Q515.4,251.8 509.6,251.8 H463.1 L438,239 Q433.5,236.5 433.5,231 V221.4 Q433.5,217.4 437.5,217.4 Z" stroke="#222" stroke-width="1.38" fill="none" stroke-linejoin="round" stroke-linecap="round"/>
<path d="M449.3,218.5 V244.5 M500.5,219.5 V251.8 M500.5,244 H514.5" stroke="#222" stroke-width="1.26" fill="none" stroke-linejoin="round" stroke-linecap="round"/>
<path d="M456.5,220.5 Q455.6,225 456,229.5 M464.8,233.2 Q461.8,241 462.3,250.8 M484.7,233.2 Q488.6,241 488,250.8 M493.8,222 Q495.6,226 496.3,230" stroke="#222" stroke-width="1.03" fill="none" stroke-linejoin="round" stroke-linecap="round"/>
<rect x="501" y="246.3" width="13.4" height="5" fill="#bbb"/>
<path d="M398.1,188 V154.4 Q398.1,152.4 400.1,152.4 H411.4 Q413.4,152.4 413.4,154.4 V196" stroke="#222" stroke-width="1.38" fill="none" stroke-linejoin="round" stroke-linecap="round"/>
<path d="M398.1,188 L401.3,195.8" stroke="#222" stroke-width="1.26" fill="none" stroke-linejoin="round" stroke-linecap="round"/>
<path d="M399.4,175 V188" stroke="#666" stroke-width="2.53" fill="none" stroke-linejoin="round" stroke-linecap="round"/>
<path d="M413.4,163.6 H423.5 Q425.5,163.6 425.5,165.6 V175.3 Q425.5,177.3 423.5,177.3 H413.4" stroke="#222" stroke-width="1.38" fill="#fff" stroke-linejoin="round" stroke-linecap="round"/>
<path d="M417.5,163.6 V177.3 M413.4,166.8 H425 M413.4,174 H425" stroke="#222" stroke-width="1.03" fill="none" stroke-linejoin="round" stroke-linecap="round"/>
<path d="M424.6,166 V175" stroke="#222" stroke-width="2.53" fill="none" stroke-linejoin="round" stroke-linecap="round"/>
<path d="M385.2,166.5 H398.1 V174.5 H385.2 Z" stroke="#222" stroke-width="1.49" fill="#c8c8c8" stroke-linejoin="round" stroke-linecap="round"/>
<path d="M385.2,166.7 H398.1" stroke="#222" stroke-width="2.53" fill="none" stroke-linejoin="round" stroke-linecap="round"/>
<path d="M401.3,245 Q398.3,246 398.3,249 V266 H423.6 M409.6,249 H421 Q423.4,249.6 424.4,252.3" stroke="#222" stroke-width="1.38" fill="none" stroke-linejoin="round" stroke-linecap="round"/>
<path d="M405.8,249 A3.4,3.4 0 0 0 412.6,249" stroke="#222" stroke-width="1.15" fill="none" stroke-linejoin="round" stroke-linecap="round"/>
<path d="M414.9,250.2 H423 Q425,250.2 425,252.2 V261 Q425,263 423,263 H414.9 Z" stroke="#222" stroke-width="1.38" fill="#fff" stroke-linejoin="round" stroke-linecap="round"/>
<path d="M418.5,250.2 V263 M414.9,253.2 H424.6 M414.9,260 H424.6" stroke="#222" stroke-width="1.03" fill="none" stroke-linejoin="round" stroke-linecap="round"/>
<path d="M424.3,252.5 V260.8" stroke="#222" stroke-width="2.3" fill="none" stroke-linejoin="round" stroke-linecap="round"/>
<path d="M385,253.1 H398.3 V260.7 H385 Z" stroke="#222" stroke-width="1.49" fill="#c8c8c8" stroke-linejoin="round" stroke-linecap="round"/>
<path d="M385,253.3 H398.3" stroke="#222" stroke-width="2.3" fill="none" stroke-linejoin="round" stroke-linecap="round"/>
<path d="M400,266.2 L413,288 Q414,290 417,290 H423.6" stroke="#222" stroke-width="1.38" fill="none" stroke-linejoin="round" stroke-linecap="round"/>
<path d="M543.7,262 V270.5 L538,285.5 Q536.5,289.8 532.5,290 H525.6" stroke="#222" stroke-width="1.38" fill="none" stroke-linejoin="round" stroke-linecap="round"/>
<path d="M423.6,266.2 V295 Q423.6,297.4 426,297.4 H523.2 Q525.6,297.4 525.6,295 V266.2" stroke="#222" stroke-width="1.95" fill="none" stroke-linejoin="round" stroke-linecap="round"/>
<path d="M448,266.2 V291.4 H501 V266.2 M448,281.6 H501" stroke="#222" stroke-width="1.38" fill="none" stroke-linejoin="round" stroke-linecap="round"/>
<circle cx="465" cy="285.8" r="1.5" fill="#222"/><circle cx="483.6" cy="285.8" r="1.5" fill="#222"/>
<circle cx="474.6" cy="267.6" r="2" fill="#1d2c3a"/>
<circle cx="474.6" cy="207" r="1.6" fill="#1d2c3a"/>
<path d="M430.4,262 H436.6 V278 H430.4 Z" stroke="#222" stroke-width="1.49" fill="#999" stroke-linejoin="round" stroke-linecap="round"/>
<path d="M437.6,258 Q439.6,272 437.8,283" stroke="#222" stroke-width="1.72" fill="none" stroke-linejoin="round" stroke-linecap="round"/>
<circle cx="434.4" cy="286" r="1.7" fill="#fff" stroke="#222" stroke-width="1.2"/>
<path d="M514.2,262 H519.8 V274 H514.2 Z" stroke="#222" stroke-width="1.49" fill="#999" stroke-linejoin="round" stroke-linecap="round"/>
<path d="M512.6,258 Q510.8,272 512.8,283" stroke="#222" stroke-width="1.72" fill="none" stroke-linejoin="round" stroke-linecap="round"/>
<circle cx="515.2" cy="286" r="1.7" fill="#fff" stroke="#222" stroke-width="1.2"/>
<path d="M415.5,267.5 L417.5,272 M529,267.5 L531.5,272" stroke="#555" stroke-width="1.03" fill="none" stroke-linejoin="round" stroke-linecap="round"/>
<path d="M383,262.5 L387,260" stroke="#999" stroke-width="1.03" fill="none" stroke-linejoin="round" stroke-linecap="round"/>
<path d="M546,253.5 L551,256" stroke="#999" stroke-width="1.03" fill="none" stroke-linejoin="round" stroke-linecap="round"/>
<line x1="474.6" y1="88" x2="474.6" y2="300" stroke="#4a9fd0" stroke-width="1.0" stroke-dasharray="8 2 2 2" stroke-opacity="0.8"/>
<line x1="430.7" y1="132.2" x2="518.8" y2="132.2" stroke="#4a9fd0" stroke-width="1.0" stroke-dasharray="8 2 2 2" stroke-opacity="0.85"/>
<line x1="380" y1="169.8" x2="431" y2="169.8" stroke="#4a9fd0" stroke-width="0.9" stroke-dasharray="6 2 2 2" stroke-opacity="0.8"/>
<line x1="376" y1="257.2" x2="431.5" y2="257.2" stroke="#4a9fd0" stroke-width="0.9" stroke-dasharray="6 2 2 2" stroke-opacity="0.8"/>
<defs>
<linearGradient id="gcyl" x1="0" y1="0" x2="0" y2="1"><stop offset="0" stop-color="#858585"/><stop offset="0.28" stop-color="#bdbdbd"/><stop offset="0.55" stop-color="#a4a4a4"/><stop offset="1" stop-color="#6a6a6a"/></linearGradient>
<linearGradient id="gcyl2" x1="0" y1="0" x2="0" y2="1"><stop offset="0" stop-color="#7a7a7a"/><stop offset="0.3" stop-color="#adadad"/><stop offset="0.6" stop-color="#9a9a9a"/><stop offset="1" stop-color="#666"/></linearGradient>
<linearGradient id="garm" x1="0" y1="0" x2="0" y2="1"><stop offset="0" stop-color="#2c2c2c"/><stop offset="0.4" stop-color="#565656"/><stop offset="1" stop-color="#686868"/></linearGradient>
<linearGradient id="garm2" x1="0" y1="0" x2="0" y2="1"><stop offset="0" stop-color="#2e2e2e"/><stop offset="0.45" stop-color="#575757"/><stop offset="1" stop-color="#636363"/></linearGradient>
<linearGradient id="gbolt" x1="0" y1="0" x2="0" y2="1"><stop offset="0" stop-color="#3a3a3a"/><stop offset="0.5" stop-color="#555"/><stop offset="1" stop-color="#404040"/></linearGradient>
<linearGradient id="gbrass" x1="0" y1="0" x2="1" y2="0"><stop offset="0" stop-color="#8f7f4a"/><stop offset="0.45" stop-color="#c4b27b"/><stop offset="1" stop-color="#9a8a54"/></linearGradient>
<linearGradient id="gfront" x1="0" y1="0" x2="1" y2="0"><stop offset="0" stop-color="#fff" stop-opacity="0"/><stop offset="0.6" stop-color="#fff" stop-opacity="0.12"/><stop offset="1" stop-color="#fff" stop-opacity="0.5"/></linearGradient>
<filter id="soft" x="-5%" y="-5%" width="110%" height="110%"><feGaussianBlur stdDeviation="0.6"/></filter>
</defs>
<g filter="url(#soft)">
<polygon points="764.1,448.8 775.5,445.8 783.1,445.5 799.0,447.8" fill="#2e2e2e"/>
<polygon points="780.4,377.0 792.8,375.3 797.8,373.3 792.8,398.2 792.8,421.5 782.9,419.0 775.4,414.8 776.2,389.9" fill="#343434"/>
<polygon points="796.5,372.5 809.4,373.3 819.7,376.3 821.1,398.2 816.1,429.8 809.4,430.8 792.8,427.5 790.0,414.8 789.5,394.9 792.0,380.0" fill="url(#gcyl)"/>
<polygon points="818.6,376.3 844.7,381.6 842.7,408.2 838.0,432.3 812.8,430.6 816.9,398.2" fill="url(#gcyl2)"/>
<polygon points="818.6,376.3 844.7,381.6 842.7,408.2 838.0,432.3 812.8,430.6 816.9,398.2" fill="url(#gfront)"/>
<polygon points="809.4,373.3 819.7,376.3 817.4,398.2 813.6,430.6 809.4,430.8 811.9,398.2" fill="rgba(0,0,0,0.13)"/>
<ellipse cx="842.2" cy="406.9" rx="8.6" ry="25.6" fill="#dcdcdc" transform="rotate(6 842.2 406.9)"/>
<circle cx="842.3" cy="408.9" r="1.1" fill="#a8a070"/>
<circle cx="790.9" cy="380.2" r="1.7" fill="#bdbdbd"/>
<circle cx="786.8" cy="392.3" r="1.7" fill="#bdbdbd"/>
<circle cx="784.4" cy="405.7" r="1.7" fill="#bdbdbd"/>
<circle cx="784.8" cy="417.4" r="1.7" fill="#bdbdbd"/>
<polygon points="761.3,380.5 765.9,379.0 779.5,380.2 779.8,415.1 778.0,428.7 778.6,439.7 782.4,446.1 778.6,450.3 764.9,447.6 753.4,450.0 756.8,410.5 757.8,395.3 759.0,385.5" fill="url(#garm)"/>
<circle cx="778.5" cy="397.3" r="1.3" fill="#1e1e1e"/>
<ellipse cx="774.2" cy="425.7" rx="1.2" ry="2" fill="#333"/>
<polygon points="711.2,375.3 727.2,379.0 724.9,395.3 712.8,392.6 709.1,387.8 709.1,379.0" fill="url(#gbolt)"/>
<polygon points="747.7,410.5 757.5,409.0 755.6,450.0 737.8,447.7" fill="#4c4c4c"/>
<path d="M751.5,415.1 Q755.3,409.8 759.0,409.3 L758.3,415.1 Z" fill="#8e8e8e"/>
<path d="M727.9,376.8 Q730.2,374.4 735.5,374.1 L749.9,377.4 Q754.5,379.4 754.5,384.0 L755.6,395.3 Q754.5,400.7 751.5,402.9 L747.7,406.7 L744.6,418.1 L738.3,447.7 L709.0,443.9 L726.4,400.7 Q723.7,395.3 724.6,390.8 L725.7,381.7 Z" fill="url(#garm2)"/>
<polygon points="726.1,380.9 728.2,377.1 727.9,399.1 725.2,397.6" fill="#757575"/>
<ellipse cx="748.4" cy="393.8" rx="5.6" ry="10.2" fill="#2b2b2b" transform="rotate(10 748.4 393.8)"/>
<ellipse cx="749.6" cy="389.3" rx="3" ry="5" fill="#5c5c5c" transform="rotate(10 749.6 389.3)"/>
<polygon points="734.0,416.3 756.5,418.1 756.2,423.9 733.7,422.1" fill="#7f7a66"/>
<polygon points="735.5,417.4 753.7,419.0 753.6,420.5 735.5,419.0" fill="#a39c80"/>
<polygon points="746.9,431.8 754.5,433.6 753.7,437.8 749.9,441.6 742.4,442.7 743.1,436.3" fill="#fff"/>
<polygon points="742.4,428.7 743.6,428.7 740.1,445.4 738.6,445.4" fill="#2c2c2c"/>
<polygon points="681.7,433.3 707.5,437.1 765.1,448.5 759.0,491.3 674.8,476.6" fill="#484848"/>
<polygon points="681.7,433.3 698.3,435.6 693.0,479.6 674.8,476.6" fill="#454545"/>
<polygon points="698.3,438.4 700.8,438.7 696.8,472.3 694.4,472.0" fill="#2e2e2e"/>
<polygon points="681.7,433.3 765.1,448.5 765.1,449.6 681.7,434.4" fill="#565656"/>
<polygon points="764.1,448.8 799.0,448.1 796.8,465.5 795.3,483.7 786.9,484.5 784.6,495.9 758.8,491.3" fill="#606060"/>
<polygon points="775.5,448.4 799.0,447.6 796.8,452.6 781.6,452.6" fill="#2c2c2c"/>
<polygon points="767.9,460.2 775.5,459.2 788.4,462.5 774.0,465.1 767.9,469.6" fill="#262626"/>
<polygon points="773.2,479.9 780.1,475.4 785.7,476.1 778.6,482.5 773.2,484.0" fill="#262626"/>
<polygon points="789.9,464.0 796.8,465.5 795.6,483.0 790.7,483.4" fill="#545454"/>
<line x1="764.1" y1="449.6" x2="759.1" y2="490.6" stroke="#8a8a8a" stroke-width="1" stroke-dasharray="2 5"/>
<polygon points="706.7,452.0 739.0,456.6 737.5,486.0 726.4,485.1 726.7,483.3 735.4,483.9 736.6,458.7 708.7,454.7 707.2,475.1 692.3,473.6 692.6,471.7 705.2,473.0" fill="#2b2b2b"/>
<polygon points="695.3,459.1 697.1,459.4 695.6,472.3 693.8,472.0" fill="#2b2b2b"/>
<polygon points="710.8,460.4 726.9,462.9 725.1,498.1 707.2,495.7" fill="#1d1d1d"/>
<polygon points="734.8,469.8 742.7,470.5 741.9,479.9 734.0,479.0" fill="#202020"/>
<polygon points="696.2,463.7 703.1,464.8 702.3,472.0 695.5,471.1" fill="#959595"/>
<polygon points="689.2,477.4 759.0,491.3 784.6,495.9 771.0,502.2 746.9,505.4 724.1,508.8 708.2,506.3 700.6,499.4 691.5,488.7" fill="#333"/>
<circle cx="745.4" cy="494.2" r="6" fill="#868686"/>
<circle cx="745.4" cy="494.8" r="3.4" fill="#505050"/>
<circle cx="693.8" cy="485.7" r="4.2" fill="#6e6e6e"/>
<polygon points="753.0,499.4 765.1,496.3 762.8,500.9 753.0,503.9" fill="#4c4c4c"/>
<polygon points="715.0,464.8 726.6,466.7 723.5,508.5 708.4,506.2" fill="url(#gbrass)"/>
<polygon points="716.3,462.0 726.9,463.8 726.6,467.2 715.0,465.1" fill="#5a5030"/>
</g>
</svg>
</body></html>
